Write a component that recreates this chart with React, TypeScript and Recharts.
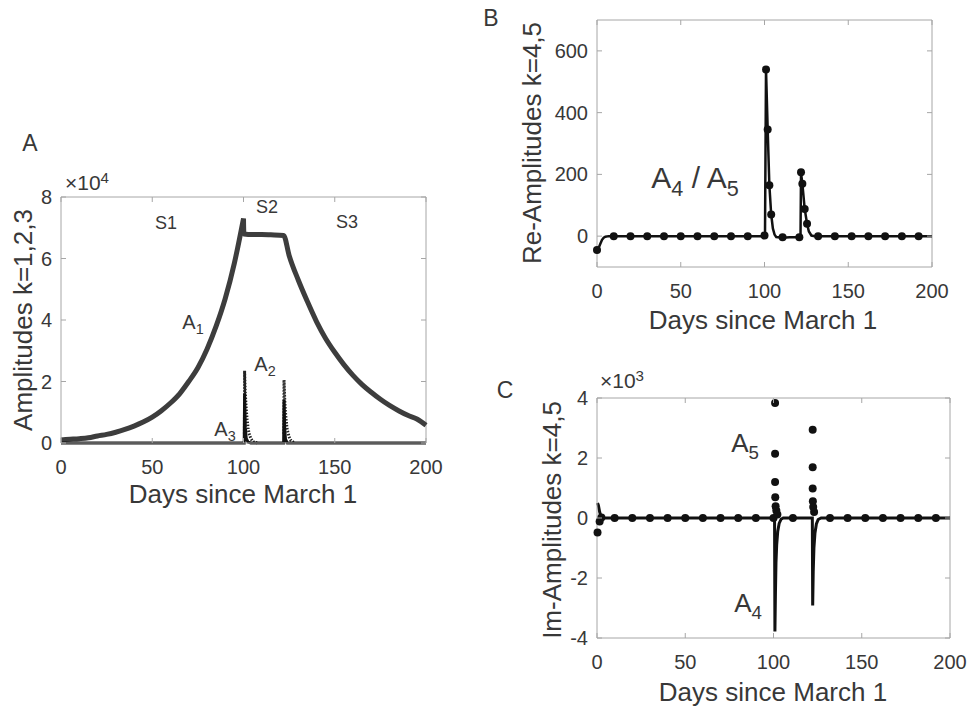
import React from "react";
import { ComposedChart, Line, Scatter, XAxis, YAxis, ReferenceLine } from "recharts";

// ---- data (x = days since March 1) ----
// panel A, values in units of 1e4
const a1Rise: [number, number][] = [
  [0, 0.1], [5, 0.12], [10, 0.14], [15, 0.17], [20, 0.23], [25, 0.28], [30, 0.35],
  [35, 0.44], [40, 0.55], [45, 0.68], [50, 0.84], [55, 1.05], [60, 1.3], [65, 1.6],
  [70, 2.0], [75, 2.45], [80, 3.05], [85, 3.8], [90, 4.7], [95, 5.85], [100, 7.3],
];
const a1Fall: [number, number][] = [
  [100, 7.3], [100.2, 6.8], [105, 6.78], [110, 6.78], [115, 6.77], [122, 6.75], [125, 6.1],
  [130, 5.3], [135, 4.6], [140, 3.95], [145, 3.4], [150, 2.95], [155, 2.55],
  [160, 2.2], [165, 1.9], [170, 1.65], [175, 1.42], [180, 1.22], [185, 1.05],
  [190, 0.9], [195, 0.78], [200, 0.58],
];
const a2First: [number, number][] = [
  [100.5, 0.3], [100.6, 2.35], [101, 1.6], [101.5, 1.1], [102, 0.75], [102.5, 0.5],
  [103, 0.32], [104, 0.15], [105, 0.06], [106, 0.02], [108, 0],
];
const a2Second: [number, number][] = [
  [122.1, 0.3], [122.2, 2.05], [122.6, 1.4], [123, 1.0], [123.5, 0.65], [124, 0.42],
  [125, 0.2], [126, 0.08], [128, 0],
];
const a3Points: [number, number][] = [
  [0, 0], [100.4, 0], [100.6, 1.6], [101, 0.5], [101.5, 0.15], [102.5, 0.03], [104, 0],
  [122, 0], [122.2, 1.4], [122.6, 0.45], [123, 0.13], [124, 0], [200, 0],
];

// panel B, real parts
const reLine: [number, number][] = [
  [0, -45], [1, -38], [2, -25], [3, -12], [4, -5], [5, -2], [7, 0], [100, 0], [100.3, 5],
  [100.9, 540], [101.9, 345], [102.9, 165], [104, 70], [105, 25], [106, 5], [107, -3],
  [110.8, -5], [115, -4], [120.8, -4], [121.5, 0], [121.8, 205], [122.6, 170], [124, 88],
  [125.4, 40], [126.5, 15], [128, 2], [130, 0], [200, 0],
];
const reMarks: [number, number][] = [
  [0, -45], [10, 0], [20, 0], [30, 0], [40, 0], [50, 0], [60, 0], [70, 0], [80, 0], [90, 0],
  [100, 2], [100.9, 540], [101.9, 345], [102.9, 165], [104, 70], [110.8, -4], [120.8, -4],
  [121.8, 207], [122.6, 170], [124, 88], [125.4, 40], [132, 0], [142, 0], [152, 0],
  [162, 0], [172, 0], [182, 0], [192, 0],
];

// panel C, imaginary parts in units of 1e3
const a4Line: [number, number][] = [
  [0.3, 0.5], [0.8, 0.42], [1.5, 0.2], [2.3, 0.05], [3, 0], [100.6, 0], [100.8, -3.78],
  [101.1, -2.5], [101.4, -1.5], [101.8, -0.9], [102.4, -0.45], [103.2, -0.18], [104.3, -0.04],
  [105.5, 0], [122, 0], [122.2, -2.92], [122.5, -1.8], [122.9, -1.0], [123.5, -0.5],
  [124.3, -0.2], [125.3, -0.05], [127, 0], [200, 0],
];
const a5Marks: [number, number][] = [
  [0.3, -0.48], [1.5, -0.12], [2.5, 0.02], [10, 0], [20, 0], [30, 0], [40, 0], [50, 0],
  [60, 0], [70, 0], [80, 0], [90, 0], [100, 0], [100.9, 3.83], [100.9, 2.14], [100.9, 1.2],
  [101, 0.69], [101.2, 0.39], [101.6, 0.25], [102.2, 0.12], [111, 0], [122.2, 2.94],
  [122.2, 1.69], [122.2, 0.98], [122.3, 0.56], [122.5, 0.37], [123, 0.2], [132, 0],
  [142, 0], [152, 0], [162, 0], [172, 0], [182, 0], [192, 0],
];

const dayTicks = [0, 50, 100, 150, 200];
const aTicks = [0, 2, 4, 6, 8];
const bTicks = [0, 200, 400, 600];
const cTicks = [-4, -2, 0, 2, 4];

const FONT = '"Liberation Sans", Arial, Helvetica, sans-serif';
const AXIS = "#a6a6a6";
const TXT = "#383838";

const rows = (pts: [number, number][]) => pts.map(([x, y]) => ({ x, y }));

const makeXTick = (plotH: number) => (props: any) => {
  const { x, y, payload } = props;
  return (
    <g>
      <line x1={x} x2={x} y1={y} y2={y - 5} stroke={AXIS} />
      <line x1={x} x2={x} y1={y - plotH} y2={y - plotH + 5} stroke={AXIS} />
      <text x={x} y={y + 24} textAnchor="middle" dominantBaseline="central" fontSize={20} fill={TXT} fontFamily={FONT}>
        {payload.value}
      </text>
    </g>
  );
};

const makeYTick = (plotW: number) => (props: any) => {
  const { x, y, payload } = props;
  return (
    <g>
      <line x1={x} x2={x + 5} y1={y} y2={y} stroke={AXIS} />
      <line x1={x + plotW - 5} x2={x + plotW} y1={y} y2={y} stroke={AXIS} />
      <text x={x - 9} y={y} textAnchor="end" dominantBaseline="central" fontSize={20} fill={TXT} fontFamily={FONT}>
        {payload.value}
      </text>
    </g>
  );
};

const dot = (props: any) => <circle cx={props.cx} cy={props.cy} r={4} fill="#111" />;

function Txt({ x, y, size, children, rotate }: any) {
  return (
    <div
      style={{
        position: "absolute",
        left: x,
        top: y,
        transform: `translate(-50%, -50%)${rotate ? " rotate(-90deg)" : ""}`,
        fontSize: size,
        lineHeight: 1,
        whiteSpace: "nowrap",
        color: TXT,
        fontFamily: FONT,
      }}
    >
      {children}
    </div>
  );
}

const Sub = ({ children }: any) => (
  <span style={{ fontSize: "0.72em", position: "relative", top: "0.35em" }}>{children}</span>
);
const Sup = ({ children }: any) => (
  <span style={{ fontSize: "0.72em", position: "relative", top: "-0.45em" }}>{children}</span>
);

const lineProps = { dataKey: "y", dot: false, activeDot: false, isAnimationActive: false } as const;

export default function App() {
  return (
    <div style={{ position: "absolute", left: 0, top: 0, width: 971, height: 708, background: "#fff", overflow: "hidden", fontFamily: FONT }}>
      {/* Panel A */}
      <div style={{ position: "absolute", left: 0, top: 170 }}>
        <ComposedChart width={470} height={340} margin={{ top: 27, right: 44, bottom: 0, left: 0 }}>
          <XAxis dataKey="x" type="number" domain={[0, 200]} ticks={dayTicks} height={67}
            stroke={AXIS} tickLine={false} tickSize={0} tickMargin={0} tick={makeXTick(246)} />
          <YAxis dataKey="y" type="number" domain={[0, 8]} ticks={aTicks} width={61}
            stroke={AXIS} tickLine={false} tickSize={0} tickMargin={0} tick={makeYTick(365)} />
          <ReferenceLine y={8} stroke={AXIS} />
          <ReferenceLine x={200} stroke={AXIS} />
          <Line {...lineProps} data={rows(a1Rise)} stroke="#3d3d3d" strokeWidth={5} type="monotone" />
          <Line {...lineProps} data={rows(a1Fall)} stroke="#3d3d3d" strokeWidth={5} type="monotone" />
          <Line {...lineProps} data={rows(a2First)} stroke="#222" strokeWidth={3} strokeDasharray="1.5 1.5" type="linear" />
          <Line {...lineProps} data={rows(a2Second)} stroke="#222" strokeWidth={3} strokeDasharray="1.5 1.5" type="linear" />
          <Line {...lineProps} data={rows(a3Points)} stroke="#111" strokeWidth={3} type="linear" />
        </ComposedChart>
      </div>

      {/* Panel B */}
      <div style={{ position: "absolute", left: 480, top: 0 }}>
        <ComposedChart width={491} height={345} margin={{ top: 20, right: 39, bottom: 0, left: 0 }}>
          <XAxis dataKey="x" type="number" domain={[0, 200]} ticks={dayTicks} height={78}
            stroke={AXIS} tickLine={false} tickSize={0} tickMargin={0} tick={makeXTick(247)} />
          <YAxis dataKey="y" type="number" domain={[-100, 700]} ticks={bTicks} width={117}
            stroke={AXIS} tickLine={false} tickSize={0} tickMargin={0} tick={makeYTick(335)} />
          <ReferenceLine y={700} stroke={AXIS} />
          <ReferenceLine x={200} stroke={AXIS} />
          <Line {...lineProps} data={rows(reLine)} stroke="#111" strokeWidth={2.5} type="linear" />
          <Scatter data={rows(reMarks)} dataKey="y" fill="#111" shape={dot} isAnimationActive={false} />
        </ComposedChart>
      </div>

      {/* Panel C */}
      <div style={{ position: "absolute", left: 480, top: 370 }}>
        <ComposedChart width={491} height={338} margin={{ top: 28, right: 21, bottom: 0, left: 0 }}>
          <XAxis dataKey="x" type="number" domain={[0, 200]} ticks={dayTicks} height={70}
            stroke={AXIS} tickLine={false} tickSize={0} tickMargin={0} tick={makeXTick(240)} />
          <YAxis dataKey="y" type="number" domain={[-4, 4]} ticks={cTicks} width={117}
            stroke={AXIS} tickLine={false} tickSize={0} tickMargin={0} tick={makeYTick(353)} />
          <ReferenceLine y={4} stroke={AXIS} />
          <ReferenceLine x={200} stroke={AXIS} />
          <Line {...lineProps} data={rows(a4Line)} stroke="#111" strokeWidth={3} type="linear" />
          <Scatter data={rows(a5Marks)} dataKey="y" fill="#111" shape={dot} isAnimationActive={false} />
        </ComposedChart>
      </div>

      {/* panel letters */}
      <Txt x={30} y={143} size={23}>A</Txt>
      <Txt x={491} y={18} size={23}>B</Txt>
      <Txt x={505} y={390} size={23}>C</Txt>

      {/* axis titles */}
      <Txt x={243} y={494} size={26}>Days since March 1</Txt>
      <Txt x={23} y={320} size={26} rotate>Amplitudes k=1,2,3</Txt>
      <Txt x={763} y={320} size={26}>Days since March 1</Txt>
      <Txt x={532} y={143} size={26} rotate>Re-Amplitudes k=4,5</Txt>
      <Txt x={773} y={692} size={26}>Days since March 1</Txt>
      <Txt x={552} y={520} size={26} rotate>Im-Amplitudes k=4,5</Txt>

      {/* exponent labels */}
      <Txt x={87} y={182} size={21}>×10<Sup>4</Sup></Txt>
      <Txt x={622} y={380} size={21}>×10<Sup>3</Sup></Txt>

      {/* annotations */}
      <Txt x={166} y={223} size={18}>S1</Txt>
      <Txt x={267} y={207} size={18}>S2</Txt>
      <Txt x={347} y={222} size={18}>S3</Txt>
      <Txt x={193} y={322} size={20}>A<Sub>1</Sub></Txt>
      <Txt x={265} y={364} size={20}>A<Sub>2</Sub></Txt>
      <Txt x={225} y={429} size={20}>A<Sub>3</Sub></Txt>
      <Txt x={695} y={178} size={30}>A<Sub>4</Sub> / A<Sub>5</Sub></Txt>
      <Txt x={745} y={443} size={26}>A<Sub>5</Sub></Txt>
      <Txt x={748} y={603} size={26}>A<Sub>4</Sub></Txt>
    </div>
  );
}
